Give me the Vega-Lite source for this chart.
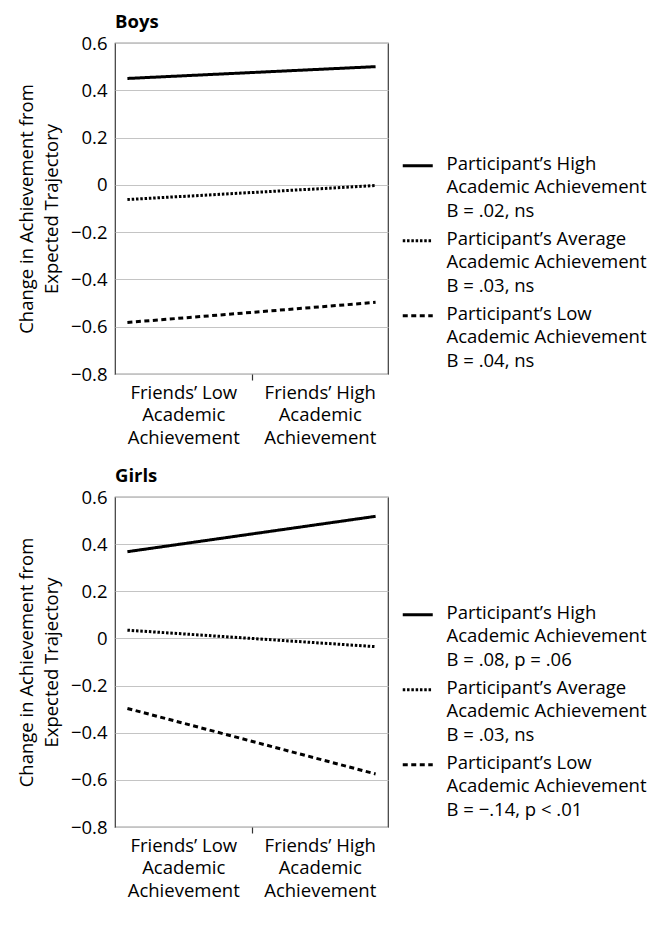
{
  "$schema": "https://vega.github.io/schema/vega-lite/v6.json",
  "padding": {"left": 16, "top": 11, "right": 5, "bottom": 5},
  "background": "white",
  "config": {
    "font": "Open Sans",
    "view": {"stroke": "#3a3a3a", "strokeWidth": 1.2},
    "axis": {"labelFont": "Open Sans", "labelFontSize": 18.5, "labelColor": "#000", "titleFont": "Open Sans", "titleFontSize": 18.5, "titleFontWeight": "normal", "titleColor": "#000"},
    "legend": {"labelFont": "Open Sans", "labelFontSize": 18.5, "labelColor": "#000"},
    "title": {"font": "Open Sans", "fontSize": 18.5, "fontWeight": "bold", "anchor": "start", "frame": "group", "color": "#000", "offset": 3}
  },
  "datasets": {
    "boys": [
      {"participant": "High", "friends": "Low", "change": 0.45},
      {"participant": "High", "friends": "High", "change": 0.50},
      {"participant": "Average", "friends": "Low", "change": -0.062},
      {"participant": "Average", "friends": "High", "change": -0.003},
      {"participant": "Low", "friends": "Low", "change": -0.582},
      {"participant": "Low", "friends": "High", "change": -0.497}
    ],
    "girls": [
      {"participant": "High", "friends": "Low", "change": 0.368},
      {"participant": "High", "friends": "High", "change": 0.518},
      {"participant": "Average", "friends": "Low", "change": 0.035},
      {"participant": "Average", "friends": "High", "change": -0.035},
      {"participant": "Low", "friends": "Low", "change": -0.297},
      {"participant": "Low", "friends": "High", "change": -0.575}
    ]
  },
  "spacing": 17,
  "vconcat": [
    {
      "title": {"text": "Boys"},
      "width": 273,
      "height": 331,
      "data": {"name": "boys"},
      "layer": [
        {
          "mark": {"type": "line", "strokeWidth": 3, "color": "black", "strokeCap": "butt"},
          "encoding": {
            "x": {"field": "friends", "type": "nominal", "scale": {"type": "point", "domain": ["Low", "High"], "padding": 0.05}, "axis": null},
            "y": {"field": "change", "type": "quantitative", "scale": {"domain": [-0.8, 0.6], "nice": false, "zero": false},
              "axis": {"values": [-0.8, -0.6, -0.4, -0.2, 0, 0.2, 0.4, 0.6], "grid": true, "gridColor": "#c4c4c4", "gridWidth": 1, "ticks": false, "domain": false, "labelPadding": 8,
                "labelExpr": "datum.value == 0 ? '0' : format(datum.value, '.1f')",
                "title": ["Change in Achievement from", "Expected Trajectory"], "titlePadding": 9, "titleLineHeight": 25}},
            "strokeDash": {"field": "participant", "type": "nominal",
              "scale": {"domain": ["High", "Average", "Low"], "range": [[1, 0], [2.5, 1.8], [5, 3.5]]},
              "legend": {"orient": "none", "legendX": 293.5, "legendY": 102.5, "title": null, "symbolType": "M-2,1.45H2", "symbolSize": 225, "symbolStrokeWidth": 3, "symbolStrokeColor": "black", "labelBaseline": "top", "labelOffset": 19.5, "labelLimit": 400, "rowPadding": 0, "padding": 0,
                "labelExpr": "datum.value == 'High' ? ['Participant’s High', 'Academic Achievement', 'B = .02, ns'] : datum.value == 'Average' ? ['Participant’s Average', 'Academic Achievement', 'B = .03, ns'] : ['Participant’s Low', 'Academic Achievement', 'B = .04, ns']",
                "encode": {"labels": {"update": {"lineHeight": {"value": 23.5}}}}}}
          }
        },
        {
          "mark": {"type": "rule", "strokeOpacity": 0},
          "encoding": {
            "x": {"field": "friends", "type": "nominal", "scale": {"type": "band", "domain": ["Low", "High"], "paddingInner": 0, "paddingOuter": 0},
              "axis": {"orient": "bottom", "title": null, "domain": false, "grid": false, "tickBand": "extent", "tickSize": 6, "tickColor": "#333", "tickWidth": 1.2,
                "tickOpacity": {"condition": {"test": "datum.index == 0", "value": 1}, "value": 0},
                "labelPadding": 3, "labelLineHeight": 22.5, "labelAngle": 0, "labelBaseline": "top",
                "labelExpr": "datum.index == 0 ? ['Friends’ Low', 'Academic', 'Achievement'] : datum.index == 1 ? ['Friends’ High', 'Academic', 'Achievement'] : ''"}}
          }
        }
      ],
      "resolve": {"scale": {"x": "independent"}, "axis": {"x": "independent"}}
    },
    {
      "title": {"text": "Girls"},
      "width": 273,
      "height": 330,
      "data": {"name": "girls"},
      "layer": [
        {
          "mark": {"type": "line", "strokeWidth": 3, "color": "black", "strokeCap": "butt"},
          "encoding": {
            "x": {"field": "friends", "type": "nominal", "scale": {"type": "point", "domain": ["Low", "High"], "padding": 0.05}, "axis": null},
            "y": {"field": "change", "type": "quantitative", "scale": {"domain": [-0.8, 0.6], "nice": false, "zero": false},
              "axis": {"values": [-0.8, -0.6, -0.4, -0.2, 0, 0.2, 0.4, 0.6], "grid": true, "gridColor": "#c4c4c4", "gridWidth": 1, "ticks": false, "domain": false, "labelPadding": 8,
                "labelExpr": "datum.value == 0 ? '0' : format(datum.value, '.1f')",
                "title": ["Change in Achievement from", "Expected Trajectory"], "titlePadding": 9, "titleLineHeight": 25}},
            "strokeDash": {"field": "participant", "type": "nominal",
              "scale": {"domain": ["High", "Average", "Low"], "range": [[1, 0], [2.5, 1.8], [5, 3.5]]},
              "legend": {"orient": "none", "legendX": 293.5, "legendY": 97.5, "title": null, "symbolType": "M-2,1.45H2", "symbolSize": 225, "symbolStrokeWidth": 3, "symbolStrokeColor": "black", "labelBaseline": "top", "labelOffset": 19.5, "labelLimit": 400, "rowPadding": 0, "padding": 0,
                "labelExpr": "datum.value == 'High' ? ['Participant’s High', 'Academic Achievement', 'B = .08, p = .06'] : datum.value == 'Average' ? ['Participant’s Average', 'Academic Achievement', 'B = .03, ns'] : ['Participant’s Low', 'Academic Achievement', 'B = −.14, p < .01']",
                "encode": {"labels": {"update": {"lineHeight": {"value": 23.5}}}}}}
          }
        },
        {
          "mark": {"type": "rule", "strokeOpacity": 0},
          "encoding": {
            "x": {"field": "friends", "type": "nominal", "scale": {"type": "band", "domain": ["Low", "High"], "paddingInner": 0, "paddingOuter": 0},
              "axis": {"orient": "bottom", "title": null, "domain": false, "grid": false, "tickBand": "extent", "tickSize": 6, "tickColor": "#333", "tickWidth": 1.2,
                "tickOpacity": {"condition": {"test": "datum.index == 0", "value": 1}, "value": 0},
                "labelPadding": 3, "labelLineHeight": 22.5, "labelAngle": 0, "labelBaseline": "top",
                "labelExpr": "datum.index == 0 ? ['Friends’ Low', 'Academic', 'Achievement'] : datum.index == 1 ? ['Friends’ High', 'Academic', 'Achievement'] : ''"}}
          }
        }
      ],
      "resolve": {"scale": {"x": "independent"}, "axis": {"x": "independent"}}
    }
  ],
  "resolve": {"scale": {"strokeDash": "independent"}, "legend": {"strokeDash": "independent"}}
}
